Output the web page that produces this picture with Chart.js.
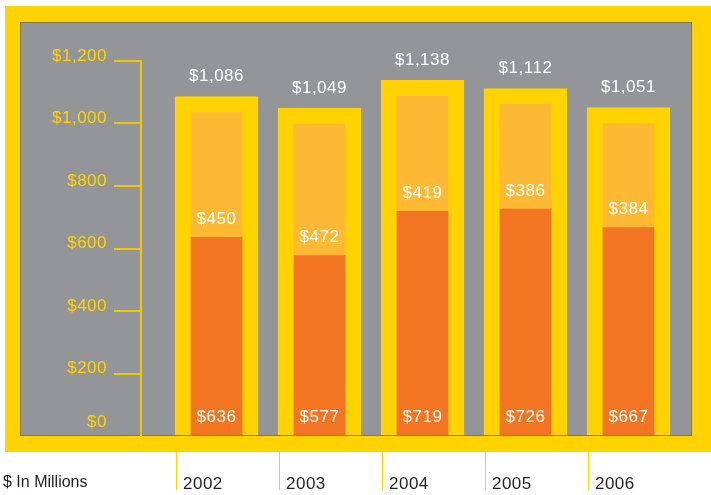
<!DOCTYPE html>
<html>
<head>
<meta charset="utf-8">
<script src="https://cdn.jsdelivr.net/npm/chart.js@4"></script>
<style>
  html, body { margin: 0; padding: 0; background: #fff; }
</style>
</head>
<body>
<canvas id="barChart" width="711" height="495"></canvas>
<script>
var years  = [2002, 2003, 2004, 2005, 2006]
var totals = [1086, 1049, 1138, 1112, 1051]
var lower  = [636, 577, 719, 726, 667]
var upper  = [450, 472, 419, 386, 384]
var yTicks = [0, 200, 400, 600, 800, 1000, 1200]

var YELLOW = '#FFD200'
var GRAY = '#939598'
var LIGHT = '#FDB933'
var DARK = '#F37421'
var FONT = '17px "Liberation Sans", Arial, sans-serif'

function money(v) {
  return '$' + v.toLocaleString('en-US')
}

// frame + gray panel behind everything
var framePlugin = {
  id: 'frame',
  beforeDraw: function (chart) {
    var ctx = chart.ctx
    var area = chart.chartArea
    ctx.save()
    ctx.fillStyle = '#fff'
    ctx.fillRect(0, 0, chart.width, chart.height)
    ctx.fillStyle = YELLOW
    ctx.fillRect(5, 6, chart.width - 5, area.bottom + 16 - 6)
    ctx.fillStyle = GRAY
    ctx.fillRect(20, 22, area.right - 20, area.bottom - 22)
    ctx.strokeStyle = 'rgba(110,95,40,0.55)'
    ctx.lineWidth = 1
    ctx.strokeRect(20.5, 22.5, area.right - 21, area.bottom - 23)
    ctx.restore()
  }
}

// value labels, y tick labels, year labels under the frame
var labelPlugin = {
  id: 'labels',
  afterDraw: function (chart) {
    var ctx = chart.ctx
    var x = chart.scales.x
    var y = chart.scales.y
    var area = chart.chartArea
    ctx.save()
    ctx.font = FONT
    ctx.letterSpacing = '0.5px'
    ctx.textBaseline = 'middle'

    // y axis labels
    ctx.fillStyle = YELLOW
    ctx.textAlign = 'right'
    yTicks.forEach(function (v) {
      var py = y.getPixelForValue(v) - (v === 0 ? 14 : 5)
      ctx.fillText(money(v), 107, py)
    })

    // bar values
    ctx.fillStyle = '#fff'
    ctx.textAlign = 'center'
    years.forEach(function (yr, i) {
      var px = x.getPixelForValue(yr)
      ctx.fillText(money(totals[i]), px, y.getPixelForValue(totals[i]) - 20)
      ctx.fillText(money(upper[i]), px, y.getPixelForValue(lower[i]) - 18)
      ctx.fillText(money(lower[i]), px, y.getPixelForValue(0) - 19)
    })

    // bottom row
    var base = area.bottom + 16
    ctx.font = '16px "Liberation Sans", Arial, sans-serif'
    ctx.letterSpacing = '0px'
    ctx.fillStyle = '#231F20'
    ctx.textAlign = 'left'
    ctx.fillText('$ In Millions', 3, 483)
    ctx.font = FONT
    ctx.letterSpacing = '0.5px'
    years.forEach(function (yr) {
      var px = x.getPixelForValue(yr)
      ctx.strokeStyle = YELLOW
      ctx.lineWidth = 1
      ctx.beginPath()
      ctx.moveTo(Math.round(px - 40.5) + 0.5, base)
      ctx.lineTo(Math.round(px - 40.5) + 0.5, 490)
      ctx.stroke()
      ctx.fillText(String(yr), px - 33.5, 484)
    })
    ctx.restore()
  }
}

var barChartData = {
  datasets: [
    {
      label: 'Lower',
      data: years.map(function (yr, i) { return { x: yr, y: lower[i] } }),
      backgroundColor: DARK,
      borderWidth: 0,
      barThickness: 51,
      grouped: false,
      order: 0
    },
    {
      label: 'Total',
      data: years.map(function (yr, i) { return { x: yr, y: totals[i] } }),
      backgroundColor: LIGHT,
      borderColor: YELLOW,
      borderWidth: { top: 16, left: 16, right: 16, bottom: 0 },
      borderSkipped: 'bottom',
      barThickness: 83,
      grouped: false,
      order: 1
    }
  ]
}

var barChartOptions = {
  responsive: false,
  animation: false,
  events: [],
  layout: { padding: { left: 114, right: 19, top: 61, bottom: 59 } },
  plugins: {
    legend: { display: false },
    tooltip: { enabled: false }
  },
  scales: {
    x: {
      type: 'linear',
      display: false,
      offset: false,
      min: 2001.267,
      max: 2006.617,
      grid: { offset: false }
    },
    y: {
      min: 0,
      max: 1200,
      ticks: { display: false, stepSize: 200 },
      grid: {
        drawOnChartArea: false,
        drawTicks: true,
        tickLength: 27,
        lineWidth: 2,
        color: function (c) { return c.tick && c.tick.value === 0 ? 'rgba(0,0,0,0)' : '#F2C600' }
      },
      border: { display: true, color: '#F2C600', width: 2 }
    }
  }
}

var barChart = new Chart(document.getElementById('barChart').getContext('2d'), {
  type: 'bar',
  data: barChartData,
  options: barChartOptions,
  plugins: [framePlugin, labelPlugin]
})
</script>
</body>
</html>
